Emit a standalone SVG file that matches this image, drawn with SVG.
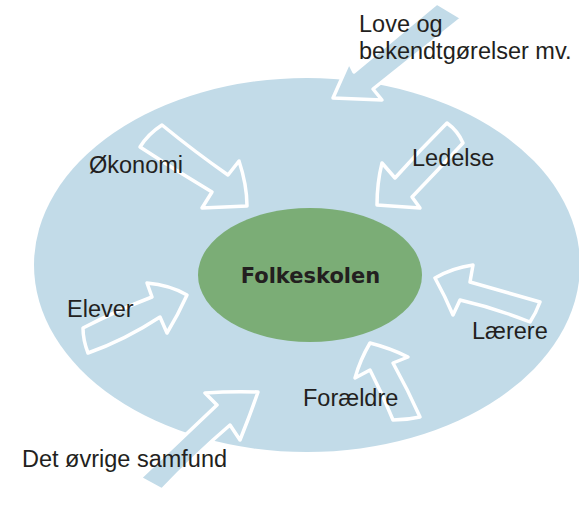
<svg xmlns="http://www.w3.org/2000/svg" width="579" height="508" viewBox="0 0 579 508">
<style>
.arrow{fill:#c2dbe8;stroke:#ffffff;stroke-width:3.5;stroke-linejoin:round}
.lbl{font-family:"Liberation Sans",Arial,sans-serif;font-size:23.5px;fill:#231f20}
.core{font-family:"DejaVu Sans",Verdana,sans-serif;font-weight:bold;font-size:21px;fill:#231f20}
</style>
<rect width="579" height="508" fill="#ffffff"/>
<g id="context">
<ellipse cx="307" cy="265" rx="273" ry="187" fill="#c2dbe8"/>
</g>
<g id="connectors">
<path id="a-love" class="arrow" d="M437,3 L462,18 L373,89 L382,100 L333,98 L349,62 L354,72 Z"/>
<path id="a-okonomi" class="arrow" d="M162,125 Q195,152 228,175 L239,161 Q247,185 247,206 L202,208 L212,192 Q175,170 140,147 Q148,134 162,125 Z"/>
<path id="a-ledelse" class="arrow" d="M447,123 Q458,131 463,143 Q438,170 412,197 L420,208 L377,205 Q377,183 382,163 L395,178 Q420,150 447,123 Z"/>
<path id="a-elever" class="arrow" d="M83,328 Q118,310 152,297 L147,283 Q170,285 187,295 Q178,315 167,333 L160,317 Q125,340 88,353 Q83,340 83,328 Z"/>
<path id="a-laerere" class="arrow" d="M435,278 Q452,268 473,265 L470,282 Q505,292 540,302 Q536,313 530,322 Q495,308 460,300 L453,315 Q445,296 435,278 Z"/>
<path id="a-foraeldre" class="arrow" d="M370,343 Q390,348 408,357 L393,363 Q408,390 420,417 Q407,420 393,420 Q383,395 370,370 L355,378 Q360,360 370,343 Z"/>
<path id="a-samfund" class="arrow" d="M258,392 Q250,415 240,440 L230,425 Q195,455 162,490 L140,478 Q180,440 217,405 L205,393 Q232,391 258,392 Z"/>
</g>
<g id="folkeskolen">
<ellipse cx="310" cy="275" rx="112" ry="67" fill="#7bad76"/>
<text class="core" x="310.5" y="283" text-anchor="middle">Folkeskolen</text>
</g>
<g id="love">
<text class="lbl" x="359" y="32">Love og</text>
<text class="lbl" x="359" y="59">bekendtgørelser mv.</text>
</g>
<g id="okonomi"><text class="lbl" x="89" y="173">Økonomi</text></g>
<g id="ledelse"><text class="lbl" x="412" y="166">Ledelse</text></g>
<g id="elever"><text class="lbl" x="67" y="317">Elever</text></g>
<g id="laerere"><text class="lbl" x="472" y="339">Lærere</text></g>
<g id="foraeldre"><text class="lbl" x="303" y="406">Forældre</text></g>
<g id="samfund"><text class="lbl" x="22" y="467">Det øvrige samfund</text></g>
</svg>
